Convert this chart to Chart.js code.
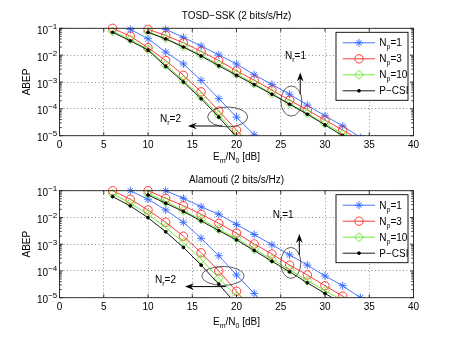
<!DOCTYPE html>
<html>
<head>
<meta charset="utf-8">
<script src="https://cdn.jsdelivr.net/npm/chart.js@4.4.1/dist/chart.umd.min.js"></script>
<style>
  html, body { margin: 0; padding: 0; background: #fff; }
  #wrap { position: relative; width: 457px; height: 344px; overflow: hidden; }
  canvas { position: absolute; left: 0; }
  #c1 { top: 0; }
  #c2 { top: 170px; }
</style>
</head>
<body>
<div id="wrap">
  <canvas id="c1" width="457" height="170" style="width:457px;height:170px"></canvas>
  <canvas id="c2" width="457" height="174" style="width:457px;height:174px"></canvas>
</div>
<script>
// x positions of the markers (dB)
const snrDb = [6, 8, 10, 12, 14, 16, 18, 20, 22, 24, 26, 28, 30, 32, 34];

// TOSD-SSK panel, Nr = 1
const tosdNr1Np1  = [null, null, null, 9.1e-2, 4.6e-2, 2.2e-2, 1.02e-2, 4.7e-3, 1.86e-3, 8.1e-4, 3.5e-4, 1.38e-4, 5.5e-5, 2.3e-5, 8.5e-6];
const tosdNr1Np3  = [null, null, 9.1e-2, 5.4e-2, 2.9e-2, 1.38e-2, 6.3e-3, 2.6e-3, 1.17e-3, 5.0e-4, 2.1e-4, 9.1e-5, 3.8e-5, 1.62e-5, 6.8e-6];
const tosdNr1Np10 = [null, null, 7.4e-2, 4.2e-2, 2.1e-2, 1.0e-2, 4.5e-3, 2.0e-3, 8.7e-4, 3.7e-4, 1.58e-4, 6.8e-5, 2.8e-5, 1.17e-5, 5.0e-6];
const tosdNr1Pcsi = [null, null, 7.1e-2, 4.0e-2, 2.0e-2, 9.3e-3, 4.0e-3, 1.78e-3, 7.9e-4, 3.5e-4, 1.48e-4, 6.3e-5, 2.5e-5, 1.0e-5, null];
// TOSD-SSK panel, Nr = 2
const tosdNr2Np1  = [null, 9.1e-2, 4.1e-2, 1.3e-2, 4.7e-3, 1.15e-3, 2.4e-4, 4.9e-5, 1.07e-5, null, null, null, null, null, null];
const tosdNr2Np3  = [1.0e-1, 5.1e-2, 1.9e-2, 6.3e-3, 1.78e-3, 4.3e-4, 8.3e-5, 1.62e-5, 3.2e-6, null, null, null, null, null, null];
const tosdNr2Np10 = [7.6e-2, 3.9e-2, 1.66e-2, 4.3e-3, 1.15e-3, 2.75e-4, 5.9e-5, 1.12e-5, 2.0e-6, null, null, null, null, null, null];
const tosdNr2Pcsi = [7.1e-2, 3.4e-2, 1.55e-2, 3.8e-3, 1.0e-3, 2.4e-4, 4.9e-5, 8.9e-6, null, null, null, null, null, null, null];

// Alamouti panel, Nr = 1
const alamNr1Np1  = [null, null, null, 1.0e-1, 5.2e-2, 2.5e-2, 1.32e-2, 5.5e-3, 2.3e-3, 9.5e-4, 4.0e-4, 1.66e-4, 6.5e-5, 2.8e-5, 1.0e-5];
const alamNr1Np3  = [null, null, 1.0e-1, 5.2e-2, 2.75e-2, 1.32e-2, 6.0e-3, 2.6e-3, 1.02e-3, 4.3e-4, 1.66e-4, 7.1e-5, 2.8e-5, 1.15e-5, 4.5e-6];
const alamNr1Np10 = [null, null, 7.6e-2, 3.9e-2, 1.78e-2, 8.5e-3, 3.6e-3, 1.66e-3, 6.5e-4, 2.75e-4, 1.1e-4, 4.4e-5, 1.82e-5, 7.9e-6, null];
const alamNr1Pcsi = [null, null, 6.9e-2, 3.4e-2, 1.66e-2, 7.4e-3, 3.2e-3, 1.45e-3, 5.8e-4, 2.3e-4, 9.3e-5, 3.6e-5, 1.45e-5, 5.8e-6, null];
// Alamouti panel, Nr = 2
const alamNr2Np1  = [null, 1.0e-1, 4.8e-2, 1.9e-2, 6.6e-3, 1.66e-3, 3.7e-4, 7.1e-5, 1.45e-5, 2.5e-6, null, null, null, null, null];
const alamNr2Np3  = [1.0e-1, 4.8e-2, 1.9e-2, 6.6e-3, 2.0e-3, 4.8e-4, 1.0e-4, 1.74e-5, 2.8e-6, null, null, null, null, null, null];
const alamNr2Np10 = [7.6e-2, 3.4e-2, 1.32e-2, 4.2e-3, 1.15e-3, 2.75e-4, 5.4e-5, 1.12e-5, 2.0e-6, null, null, null, null, null, null];
const alamNr2Pcsi = [6.0e-2, 2.7e-2, 9.8e-3, 2.9e-3, 7.6e-4, 1.66e-4, 3.2e-5, 5.6e-6, null, null, null, null, null, null, null];

// axes + texts
const xTickValues = [0, 5, 10, 15, 20, 25, 30, 35, 40];
const yTickValues = [1e-5, 1e-4, 1e-3, 1e-2, 1e-1];
const yTickLabels = ['10^−5', '10^−4', '10^−3', '10^−2', '10^−1'];
const legendLabels = ['N_p=1', 'N_p=3', 'N_p=10', 'P−CSI'];
const panelTitles = ['TOSD−SSK (2 bits/s/Hz)', 'Alamouti (2 bits/s/Hz)'];
const xAxisTitle = 'E_m/N_0 [dB]';
const yAxisTitle = 'ABEP';

const FONT = "'Liberation Sans', Arial, Helvetica, sans-serif";

const seriesStyles = [
  { color: 'rgb(50,100,255)',  pointStyle: 'star',    radius: 4,   fill: 'rgba(0,0,0,0)' },
  { color: 'rgb(255,40,40)',   pointStyle: 'circle',  radius: 4.2, fill: 'rgba(0,0,0,0)' },
  { color: 'rgb(100,230,40)',  pointStyle: 'rectRot', radius: 4.5, fill: 'rgba(0,0,0,0)' },
  { color: '#000',             pointStyle: 'circle',  radius: 1.4, fill: '#000' }
];

// annotation shapes (data units, ry in decades)
const tosdNotes = {
  ellipses: [{ x: 19.0, y: 5.0e-5, rx: 2.26, ry: 0.37 }, { x: 26.2, y: 1.95e-4, rx: 1.19, ry: 0.56 }],
  arrows: [{ x1: 18.4, y1: 2.3e-5, x2: 14.5, y2: 2.3e-5 }, { x1: 27.2, y1: 3.5e-4, x2: 27.2, y2: 2.24e-3 }],
  labels: [{ text: 'N_r=2', x: 11.36, y: 3.3e-5 }, { text: 'N_r=1', x: 25.48, y: 7.0e-3 }]
};
const alamNotes = {
  ellipses: [{ x: 18.47, y: 6.5e-5, rx: 2.37, ry: 0.355 }, { x: 26.14, y: 2.0e-4, rx: 1.13, ry: 0.58 }],
  arrows: [{ x1: 18.8, y1: 2.6e-5, x2: 14.18, y2: 2.6e-5 }, { x1: 27.1, y1: 4.0e-4, x2: 27.1, y2: 2.4e-3 }],
  labels: [{ text: 'N_r=2', x: 10.79, y: 3.5e-5 }, { text: 'N_r=1', x: 24.09, y: 9.3e-3 }]
};


function toPoints(vals) {
  const pts = [];
  vals.forEach((v, i) => { if (v !== null) pts.push({ x: snrDb[i], y: v }); });
  return pts;
}

function makeDatasets(nr1, nr2) {
  const out = [];
  [nr1, nr2].forEach((group, g) => {
    group.forEach((vals, i) => {
      const st = seriesStyles[i];
      out.push({
        label: legendLabels[i] + (g === 0 ? ' (Nr=1)' : ' (Nr=2)'),
        data: toPoints(vals),
        borderColor: st.color,
        backgroundColor: st.color,
        borderWidth: 0.9,
        pointStyle: st.pointStyle,
        pointRadius: st.radius,
        pointBorderColor: st.color,
        pointBackgroundColor: st.fill,
        pointBorderWidth: 0.9,
        tension: 0,
        order: 4 - i,
        clip: { left: 0, top: 6, right: 0, bottom: 0 }
      });
    });
  });
  return out;
}

// "N_p=1" -> pieces, '_' = subscript char, '^' = superscript rest
function splitRich(text) {
  const parts = [];
  let buf = '';
  for (let i = 0; i < text.length; i++) {
    if (text[i] === '_') {
      if (buf) parts.push([buf, 'n']);
      buf = '';
      parts.push([text[i + 1], 'sub']);
      i++;
    } else if (text[i] === '^') {
      if (buf) parts.push([buf, 'n']);
      parts.push([text.slice(i + 1), 'sup']);
      buf = '';
      break;
    } else {
      buf += text[i];
    }
  }
  if (buf) parts.push([buf, 'n']);
  return parts;
}

function richWidth(ctx, parts) {
  let w = 0;
  parts.forEach(p => {
    ctx.font = (p[1] === 'n' ? 10 : p[1] === 'sub' ? 7 : 8) + 'px ' + FONT;
    w += ctx.measureText(p[0]).width;
  });
  return w;
}

function drawRich(ctx, text, x, y, align) {
  const parts = splitRich(text);
  const w = richWidth(ctx, parts);
  let cx = align === 'center' ? x - w / 2 : align === 'right' ? x - w : x;
  ctx.textAlign = 'left';
  ctx.textBaseline = 'alphabetic';
  parts.forEach(p => {
    ctx.font = (p[1] === 'n' ? 10 : p[1] === 'sub' ? 7 : 8) + 'px ' + FONT;
    const dy = p[1] === 'sub' ? 3 : p[1] === 'sup' ? -5 : 0;
    ctx.fillText(p[0], cx, y + dy);
    cx += ctx.measureText(p[0]).width;
  });
}

function drawArrow(ctx, x1, y1, x2, y2) {
  const ang = Math.atan2(y2 - y1, x2 - x1);
  const len = 9, half = 3.3;
  ctx.beginPath();
  ctx.moveTo(x1, y1);
  ctx.lineTo(x2 - Math.cos(ang) * len * 0.5, y2 - Math.sin(ang) * len * 0.5);
  ctx.stroke();
  ctx.save();
  ctx.translate(x2, y2);
  ctx.rotate(ang);
  ctx.beginPath();
  ctx.moveTo(0, 0);
  ctx.lineTo(-len, -half);
  ctx.lineTo(-len * 0.65, 0);
  ctx.lineTo(-len, half);
  ctx.closePath();
  ctx.fill();
  ctx.restore();
}

// matlab-ish frame: box, inward ticks, labels, annotations, legend
const matlabFrame = {
  id: 'matlabFrame',
  afterDraw(chart, args, opts) {
    const ctx = chart.ctx;
    const a = chart.chartArea;
    const xs = chart.scales.x, ys = chart.scales.y;
    ctx.save();

    // box
    ctx.strokeStyle = '#222';
    ctx.lineWidth = 0.9;
    ctx.strokeRect(a.left, a.top, a.right - a.left, a.bottom - a.top);

    // ticks inward
    ctx.beginPath();
    xTickValues.forEach(v => {
      const px = xs.getPixelForValue(v);
      ctx.moveTo(px, a.bottom); ctx.lineTo(px, a.bottom - 3.5);
      ctx.moveTo(px, a.top); ctx.lineTo(px, a.top + 3.5);
    });
    yTickValues.forEach((v, k) => {
      const py = ys.getPixelForValue(v);
      ctx.moveTo(a.left, py); ctx.lineTo(a.left + 3.5, py);
      ctx.moveTo(a.right, py); ctx.lineTo(a.right - 3.5, py);
      if (k < yTickValues.length - 1) {
        for (let m = 2; m <= 9; m++) {
          const pm = ys.getPixelForValue(v * m);
          ctx.moveTo(a.left, pm); ctx.lineTo(a.left + 2.2, pm);
          ctx.moveTo(a.right, pm); ctx.lineTo(a.right - 2.2, pm);
        }
      }
    });
    ctx.stroke();

    ctx.fillStyle = '#000';
    // y tick labels
    yTickValues.forEach((v, k) => {
      const py = ys.getPixelForValue(v);
      drawRich(ctx, yTickLabels[k], 57.3, py + 5.5, 'right');
    });

    // titles
    ctx.font = '10px ' + FONT;
    ctx.textAlign = 'center';
    ctx.textBaseline = 'alphabetic';
    const midX = (a.left + a.right) / 2;
    ctx.fillText(opts.title, midX, opts.titleY);
    drawRich(ctx, xAxisTitle, midX, opts.xTitleY, 'center');
    ctx.save();
    ctx.translate(30, (a.top + a.bottom) / 2);
    ctx.rotate(-Math.PI / 2);
    ctx.font = '10px ' + FONT;
    ctx.textAlign = 'center';
    ctx.fillText(yAxisTitle, 0, 0);
    ctx.restore();

    // annotations
    const n = opts.notes;
    ctx.strokeStyle = '#333';
    ctx.lineWidth = 0.8;
    n.ellipses.forEach(e => {
      const cx = xs.getPixelForValue(e.x), cy = ys.getPixelForValue(e.y);
      const rx = Math.abs(xs.getPixelForValue(e.x + e.rx) - cx);
      const ry = Math.abs(cy - ys.getPixelForValue(e.y * Math.pow(10, e.ry)));
      ctx.beginPath();
      ctx.ellipse(cx, cy, rx, ry, 0, 0, Math.PI * 2);
      ctx.stroke();
    });
    ctx.strokeStyle = '#000';
    ctx.fillStyle = '#000';
    ctx.lineWidth = 1;
    n.arrows.forEach(r => {
      drawArrow(ctx, xs.getPixelForValue(r.x1), ys.getPixelForValue(r.y1),
                     xs.getPixelForValue(r.x2), ys.getPixelForValue(r.y2));
    });
    n.labels.forEach(l => {
      drawRich(ctx, l.text, xs.getPixelForValue(l.x), ys.getPixelForValue(l.y), 'left');
    });

    // legend
    const bw = 72, bh = 68;
    const bx = a.right - 5.5 - bw, by = a.top + 4;
    ctx.fillStyle = '#fff';
    ctx.fillRect(bx, by, bw, bh);
    ctx.strokeStyle = '#000';
    ctx.lineWidth = 0.9;
    ctx.strokeRect(bx, by, bw, bh);
    legendLabels.forEach((lab, i) => {
      const ds = chart.data.datasets[i];
      const ly = by + 10.5 + i * 16;
      ctx.strokeStyle = ds.borderColor;
      ctx.lineWidth = ds.borderWidth;
      ctx.beginPath();
      ctx.moveTo(bx + 6.7, ly); ctx.lineTo(bx + 39, ly);
      ctx.stroke();
      ctx.fillStyle = ds.pointBackgroundColor;
      ctx.lineWidth = ds.pointBorderWidth;
      Chart.helpers.drawPoint(ctx, { pointStyle: ds.pointStyle, radius: ds.pointRadius, rotation: 0, borderWidth: ds.pointBorderWidth }, bx + 23, ly);
      ctx.fillStyle = '#000';
      drawRich(ctx, lab, bx + 43.3, ly + 3.6, 'left');
    });

    ctx.restore();
  }
};

function makeChart(canvasId, datasets, geom) {
  return new Chart(document.getElementById(canvasId), {
    type: 'line',
    data: { datasets: datasets },
    options: {
      responsive: false,
      animation: false,
      events: [],
      layout: { padding: { top: geom.top, right: 457 - 413.5, bottom: 0, left: 0 } },
      scales: {
        x: {
          type: 'linear',
          min: 0, max: 40,
          afterBuildTicks: s => { s.ticks = xTickValues.map(v => ({ value: v })); },
          ticks: { color: '#000', font: { family: FONT, size: 10 }, padding: 4, maxRotation: 0 },
          grid: { color: 'rgba(0,0,0,0.55)', lineWidth: 0.8, drawTicks: false },
          border: { display: false, dash: [1, 2.5] },
          afterFit: s => { s.height = geom.height - geom.bottom; }
        },
        y: {
          type: 'logarithmic',
          min: 1e-5, max: 1e-1,
          afterBuildTicks: s => { s.ticks = yTickValues.map(v => ({ value: v })); },
          ticks: { display: false },
          grid: { color: 'rgba(0,0,0,0.55)', lineWidth: 0.8, drawTicks: false },
          border: { display: false, dash: [1, 2.5] },
          afterFit: s => { s.width = 59.5; }
        }
      },
      plugins: {
        legend: { display: false },
        tooltip: { enabled: false },
        matlabFrame: { title: geom.title, titleY: geom.titleY, xTitleY: geom.xTitleY, notes: geom.notes }
      }
    },
    plugins: [matlabFrame]
  });
}

makeChart('c1',
  makeDatasets([tosdNr1Np1, tosdNr1Np3, tosdNr1Np10, tosdNr1Pcsi], [tosdNr2Np1, tosdNr2Np3, tosdNr2Np10, tosdNr2Pcsi]),
  { height: 170, top: 28.3, bottom: 135.7, title: panelTitles[0], titleY: 18.8, xTitleY: 160, notes: tosdNotes });

makeChart('c2',
  makeDatasets([alamNr1Np1, alamNr1Np3, alamNr1Np10, alamNr1Pcsi], [alamNr2Np1, alamNr2Np3, alamNr2Np10, alamNr2Pcsi]),
  { height: 174, top: 20.7, bottom: 127.7, title: panelTitles[1], titleY: 12.5, xTitleY: 155, notes: alamNotes });
</script>
</body>
</html>
